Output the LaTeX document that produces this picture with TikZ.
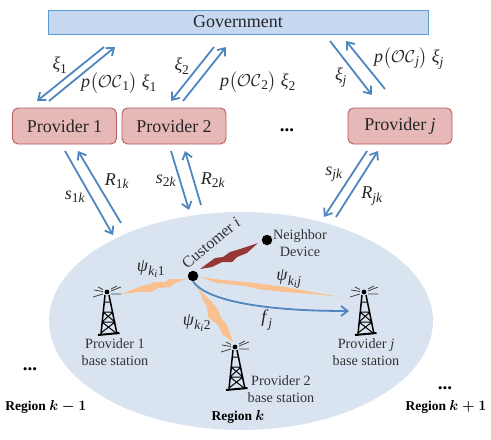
\documentclass[tikz,border=0pt]{standalone}
\usepackage{amsmath}
\usepackage{fontspec}
\setmainfont{Liberation Serif}
\usetikzlibrary{arrows.meta,shapes.geometric}
\DeclareMathSizes{18}{18}{13.5}{10.5}
\definecolor{flowblue}{HTML}{4F86C0}
\definecolor{govedge}{HTML}{5B9BD5}
\definecolor{govfill}{HTML}{C6D9F0}
\definecolor{provedge}{HTML}{B85C5C}
\definecolor{provfill}{HTML}{E6B8B7}
\definecolor{regionfill}{HTML}{DAE4F1}
\definecolor{boltorange}{HTML}{FAC090}
\definecolor{boltred}{HTML}{953735}
\newcommand{\mi}[1]{\text{\textit{#1}}}
\newcommand{\mr}[1]{\text{#1}}
\tikzset{
  x=1pt,y=-1pt,
  flow/.style={draw=flowblue,line width=1.8pt,-{Straight Barb[length=6.5pt,width=10pt,line width=1.8pt]}},
  govbox/.style={draw=govedge,fill=govfill,line width=0.9pt,minimum width=380pt,minimum height=24pt,inner sep=0pt},
  provbox/.style={draw=provedge,fill=provfill,line width=0.9pt,rounded corners=5.5pt,minimum width=104pt,minimum height=36pt,inner sep=0pt},
  boxtext/.style={font=\fontsize{18}{20}\selectfont,text=black!85},
  mlabel/.style={font=\fontsize{18}{20}\selectfont,inner sep=0pt,text=black!85},
  smalltext/.style={font=\fontsize{14.2}{17}\selectfont,align=center,inner sep=0pt,text=black!80},
  regionlabel/.style={font=\fontsize{13.5}{15}\selectfont\bfseries,inner sep=0pt,text=black},
  dotmark/.style={font=\fontsize{19}{19}\selectfont\bfseries,inner sep=0pt},
  dev/.style={circle,fill=black,minimum size=10.5pt,inner sep=0pt},
  tower/.pic={
    \draw[line width=1.5pt,black] (-3,3) -- (-7,42) (1,3) -- (9,42);
    \draw[line width=1pt,black] (-5,20) -- (5,20) (-6,30) -- (7,30) (-5,20) -- (7,30) (5,20) -- (-6,30) (-6,30) -- (8,41) (7,30) -- (-7,41) (-3.5,10) -- (2.5,10);
    \draw[line width=2pt,black] (-10,43) -- (11.5,41);
    \fill[black] (-1,0) circle (2.4pt);
    \draw[line width=0.8pt,black!75]
      (-5,-0.5) -- (-14,-2) (-5,2) -- (-15,5) (-5,-2.5) -- (-10,-5)
      (3,-1) -- (13,-5) (3,2) -- (13,2) (3,-3) -- (9,-6);
  }
}
\begin{document}
\begin{tikzpicture}
\useasboundingbox (0,0) rectangle (491,440);
% region
\node[ellipse,fill=regionfill,minimum width=384pt,minimum height=218pt,inner sep=0pt] (regionk) at (241,321) {};
% boxes
\node[govbox,boxtext] (gov) at (238,22) {Government};
\node[provbox,boxtext] (p1) at (64.5,126) {Provider 1};
\node[provbox,boxtext] (p2) at (174,126) {Provider 2};
\node[provbox,boxtext] (pj) at (400,126) {Provider \textit{j}};
\node[dotmark] (dotsa) at (287,130) {...};
\node[dotmark] (dotsb) at (30,369) {...};
\node[dotmark] (dotsc) at (445,388) {...};
% free ends of the flows
\coordinate (a1) at (104,47); \coordinate (a2) at (37,101);
\coordinate (a3) at (49,101); \coordinate (a4) at (115,47);
\coordinate (b1) at (214,47); \coordinate (b2) at (171,101);
\coordinate (b3) at (183,101); \coordinate (b4) at (226,47);
\coordinate (c1) at (330,41); \coordinate (c2) at (372,95);
\coordinate (c3) at (385,89); \coordinate (c4) at (346,41);
\coordinate (d1) at (65,151); \coordinate (d2) at (113,235);
\coordinate (d3) at (121,223); \coordinate (d4) at (78,151);
\coordinate (e1) at (171,151); \coordinate (e2) at (189,210);
\coordinate (e3) at (201,205); \coordinate (e4) at (185,151);
\coordinate (f1) at (367,151); \coordinate (f2) at (324,217);
\coordinate (f3) at (336,217); \coordinate (f4) at (378,151);
\draw[flow] (a1) -- (a2); \draw[flow] (a3) -- (a4);
\draw[flow] (b1) -- (b2); \draw[flow] (b3) -- (b4);
\draw[flow] (c1) -- (c2); \draw[flow] (c3) -- (c4);
\draw[flow] (d1) -- (d2); \draw[flow] (d3) -- (d4);
\draw[flow] (e1) -- (e2); \draw[flow] (e3) -- (e4);
\draw[flow] (f1) -- (f2); \draw[flow] (f3) -- (f4);
% bolts
\fill[boltred] (200,269) -- (215,258) -- (223,257) -- (230,252) -- (240,249) -- (258,243) -- (247,253) -- (237,257) -- (232,262) -- (222,262) -- (212,267) -- cycle;
\fill[boltorange] (121,294) -- (142,286) -- (150,284) -- (155,282) -- (165,282) -- (170,279) -- (187,279) -- (175,283) -- (170,287) -- (158,288) -- (152,292) -- (140,292) -- cycle;
\fill[boltorange] (200,277) -- (222,280) -- (247,282) -- (262,284) -- (285,287) -- (312,292) -- (342,297) -- (323,295) -- (310,294) -- (297,293) -- (275,291) -- (258,289) -- (245,286) -- (228,284) -- (217,283) -- cycle;
\fill[boltorange] (195,285) -- (205,295) -- (212,302) -- (218,310) -- (221,318) -- (227,325) -- (233,342) -- (223,335) -- (218,325) -- (208,317) -- (207,307) -- (202,298) -- (200,292) -- cycle;
% devices
\node[dev] (cust) at (193,276) {};
\node[dev] (neigh) at (267,240) {};
\coordinate (bsj) at (349,311);
\draw[flow] (cust.south) .. controls (206,300) and (260,311) .. (bsj);
% towers
\pic at (108,292) {tower};
\pic at (236,347) {tower};
\pic at (365,292) {tower};
% math labels
\node[mlabel] (l1) at (60,65) {$\mi{ξ}_{\mr{1}}$};
\node[mlabel] (l2) at (119,83) {$\mi{p}\bigl(\mathcal{OC}_{\mr{1}}\bigr)\ \mi{ξ}_{\mr{1}}$};
\node[mlabel] (l3) at (182,66) {$\mi{ξ}_{\mr{2}}$};
\node[mlabel] (l4) at (258,82) {$\mi{p}\bigl(\mathcal{OC}_{\mr{2}}\bigr)\ \mi{ξ}_{\mr{2}}$};
\node[mlabel] (l5) at (341,78) {$\mi{ξ}_{\mi{j}}$};
\node[mlabel] (l6) at (409,59) {$\mi{p}\bigl(\mathcal{OC}_{\mi{j}}\bigr)\ \mi{ξ}_{\mi{j}}$};
\node[mlabel] (l7) at (75,197) {$\mi{s}_{\mr{1}\mi{k}}$};
\node[mlabel] (l8) at (117,181) {$\mi{R}_{\mr{1}\mi{k}}$};
\node[mlabel] (l9) at (166,181) {$\mi{s}_{\mr{2}\mi{k}}$};
\node[mlabel] (l10) at (213,180) {$\mi{R}_{\mr{2}\mi{k}}$};
\node[mlabel] (l11) at (334,174) {$\mi{s}_{\mi{jk}}$};
\node[mlabel] (l12) at (372,196) {$\mi{R}_{\mi{jk}}$};
\node[mlabel] (l13) at (151,269) {$\mi{ψ}_{\mi{k}_{\mi{i}}\mr{1}}$};
\node[mlabel] (l14) at (197,323) {$\mi{ψ}_{\mi{k}_{\mi{i}}\mr{2}}$};
\node[mlabel] (l15) at (289,279) {$\mi{ψ}_{\mi{k}_{\mi{i}}\mi{j}}$};
\node[mlabel] (l16) at (267,320) {$\mi{f}_{\mi{j}}$};
% text labels
\node[smalltext,font=\fontsize{16}{18}\selectfont,rotate=40] (custl) at (211,243) {Customer \textit{i}};
\node[smalltext] (neighl) at (300,243) {Neighbor\\Device};
\node[smalltext] (bs1) at (115,352) {Provider 1\\base station};
\node[smalltext] (bs2) at (281,389) {Provider 2\\base station};
\node[smalltext] (bsj2) at (366,352) {Provider \textit{j}\\base station};
\node[regionlabel] (r1) at (46,407) {Region $\boldsymbol{k-1}$};
\node[regionlabel] (r2) at (238,417) {Region $\boldsymbol{k}$};
\node[regionlabel] (r3) at (446,407) {Region $\boldsymbol{k+1}$};
\end{tikzpicture}
\end{document}
